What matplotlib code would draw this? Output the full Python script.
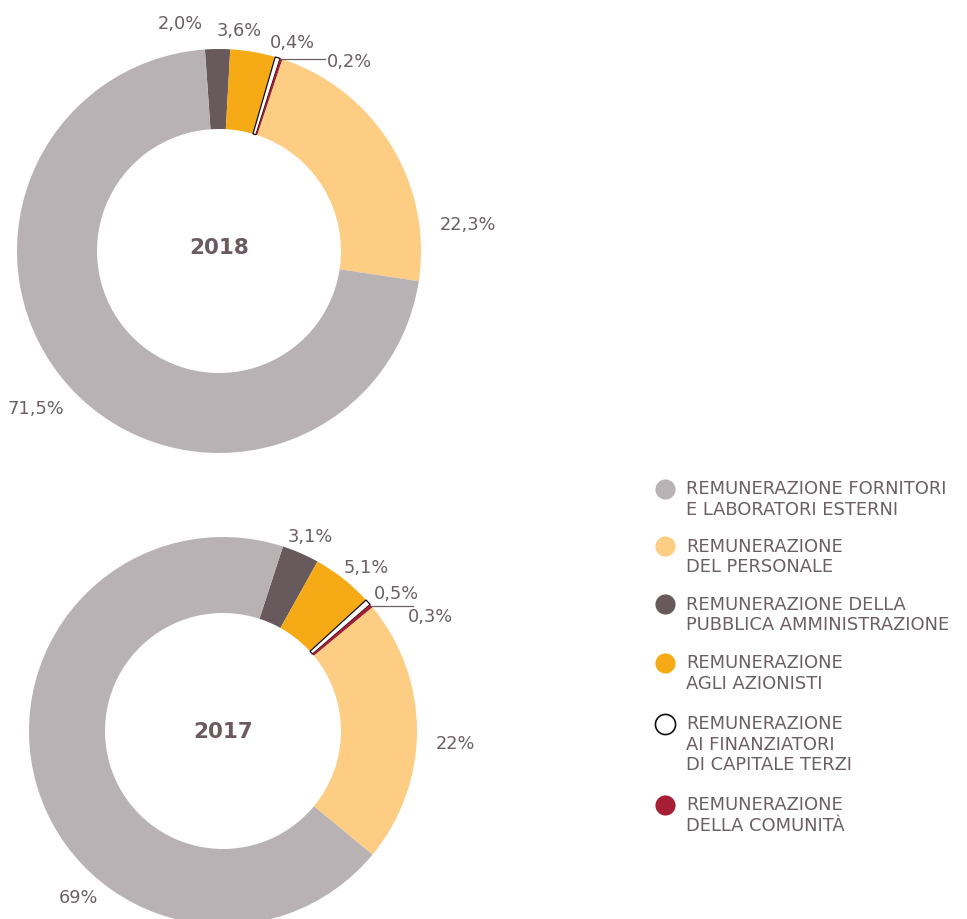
import matplotlib
matplotlib.use("Agg")
import matplotlib.pyplot as plt
import numpy as np

categories = [
    "REMUNERAZIONE DELLA\nPUBBLICA AMMINISTRAZIONE",
    "REMUNERAZIONE\nAGLI AZIONISTI",
    "REMUNERAZIONE\nAI FINANZIATORI\nDI CAPITALE TERZI",
    "REMUNERAZIONE\nDELLA COMUNITÀ",
    "REMUNERAZIONE\nDEL PERSONALE",
    "REMUNERAZIONE FORNITORI\nE LABORATORI ESTERNI",
]
values_2018 = [2.0, 3.6, 0.4, 0.2, 22.3, 71.5]
values_2017 = [3.1, 5.1, 0.5, 0.3, 22.0, 69.0]
labels_2018 = ["2,0%", "3,6%", "0,4%", "0,2%", "22,3%", "71,5%"]
labels_2017 = ["3,1%", "5,1%", "0,5%", "0,3%", "22%", "69%"]
years = ["2018", "2017"]

colors = ["#67595c", "#f6ab16", "#ffffff", "#a61e34", "#fdcd83", "#b9b2b4"]
edges = ["none", "none", "#111111", "none", "none", "none"]
legend_order = [5, 4, 0, 1, 2, 3]

TXT = "#6b5f62"
W, H = 967, 920
fig = plt.figure(figsize=(W / 100, H / 100), dpi=100)
ax = fig.add_axes([0, 0, 1, 1])


def py(y):
    return H - y


def donut(values, center_px, radius, width, start):
    wedges, _ = ax.pie(values, colors=colors, startangle=start, counterclock=False,
                       center=(center_px[0], py(center_px[1])), radius=radius,
                       wedgeprops=dict(width=width, linewidth=0), frame=True)
    for w, ec in zip(wedges, edges):
        if ec != "none":
            w.set_edgecolor(ec)
            w.set_linewidth(0.9)
    return wedges


w18 = donut(values_2018, (219, 252), 202, 80, 94)
w17 = donut(values_2017, (223, 732), 194, 76, 72)

fs = 12.8
pos18 = [(180, 24), (239, 31), (292, 43), (349, 62), (468, 225), (36, 409)]
pos17 = [(310, 537), (366, 568), (396, 594), (430, 617), (455, 744), (78, 898)]
for lab, p in zip(labels_2018, pos18):
    ax.text(p[0], py(p[1]), lab, ha="center", va="center", fontsize=fs, color=TXT)
for lab, p in zip(labels_2017, pos17):
    ax.text(p[0], py(p[1]), lab, ha="center", va="center", fontsize=fs, color=TXT)


def leader(wedge, x_end):
    th = np.deg2rad((wedge.theta1 + wedge.theta2) / 2)
    cx, cy = wedge.center
    r = wedge.r
    x0 = cx + r * np.cos(th)
    y0 = cy + r * np.sin(th)
    ax.plot([x0, x_end], [y0, y0], color="#6b5f62", lw=0.9, zorder=4)


leader(w18[3], 325)
leader(w17[3], 413)

ax.text(219, py(248), years[0], ha="center", va="center", fontsize=15.5,
        fontweight="bold", color="#6b5a5e")
ax.text(223, py(732), years[1], ha="center", va="center", fontsize=15.5,
        fontweight="bold", color="#6b5a5e")

# legend
leg_y = [490, 547, 605, 664, 725, 806]
for i, yy in zip(legend_order, leg_y):
    ec = "#111111" if colors[i] == "#ffffff" else colors[i]
    ax.plot([665], [py(yy)], marker="o", markersize=14.5, markerfacecolor=colors[i],
            markeredgecolor=ec, markeredgewidth=1.2 if colors[i] == "#ffffff" else 0,
            linestyle="none")
    ax.text(686, py(yy) + 9.5, categories[i], ha="left", va="top", fontsize=12.9,
            color=TXT, linespacing=1.15)

ax.set_xlim(0, W)
ax.set_ylim(0, H)
ax.set_aspect("equal")
ax.axis("off")
fig.savefig("out.png", dpi=100)
